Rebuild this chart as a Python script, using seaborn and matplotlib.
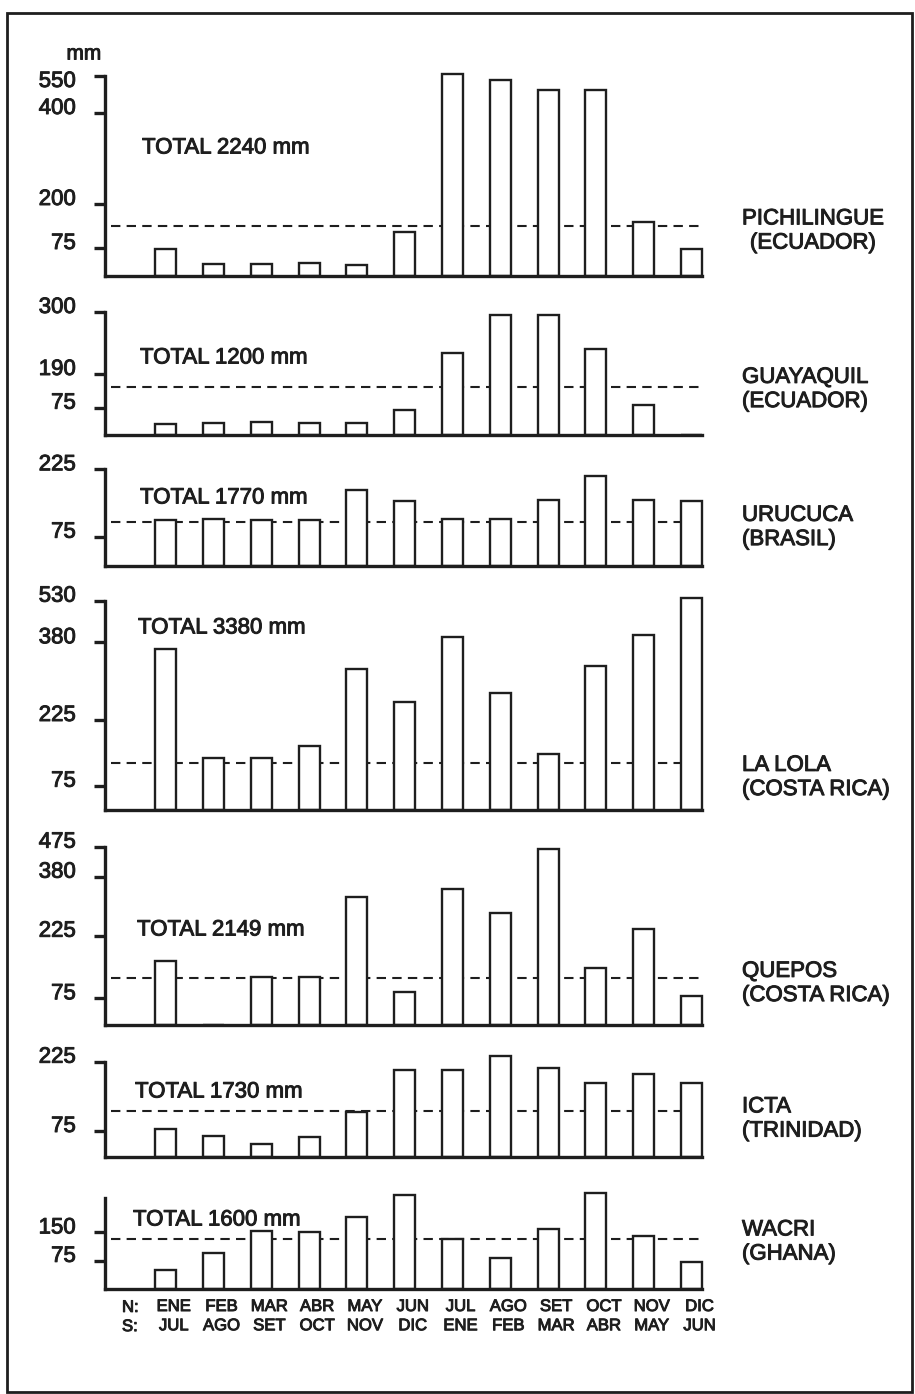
import numpy as np
import matplotlib
matplotlib.use("Agg")
import matplotlib.pyplot as plt
import matplotlib.transforms as mtransforms
import matplotlib.patheffects as pe
from matplotlib.patches import Rectangle
import seaborn as sns

sns.set_theme(style="white")
plt.rcParams['font.family'] = ['Liberation Sans', 'DejaVu Sans']

# ---------------- data ----------------
MONTHS_N = ["ENE", "FEB", "MAR", "ABR", "MAY", "JUN", "JUL", "AGO", "SET", "OCT", "NOV", "DIC"]
MONTHS_S = ["JUL", "AGO", "SET", "OCT", "NOV", "DIC", "ENE", "FEB", "MAR", "ABR", "MAY", "JUN"]

STATIONS = ["PICHILINGUE\n(ECUADOR)", "GUAYAQUIL\n(ECUADOR)", "URUCUCA\n(BRASIL)",
            "LA LOLA\n(COSTA RICA)", "QUEPOS\n(COSTA RICA)", "ICTA\n(TRINIDAD)", "WACRI\n(GHANA)"]
TOTALS = ["TOTAL 2240 mm", "TOTAL 1200 mm", "TOTAL 1770 mm", "TOTAL 3380 mm",
          "TOTAL 2149 mm", "TOTAL 1730 mm", "TOTAL 1600 mm"]

pichilingue = [72, 32, 32, 35, 30, 120, 560, 534, 493, 493, 149, 72]
guayaquil = [29, 32, 35, 32, 32, 69, 228, 295, 294, 234, 84, 0]
urucuca = [112, 114, 112, 112, 180, 155, 114, 114, 156, 210, 156, 155]
la_lola = [367, 139, 139, 166, 327, 260, 398, 278, 147, 333, 406, 539]
quepos = [164, 0, 125, 125, 327, 91, 347, 284, 467, 147, 242, 80]
icta = [79, 61, 37, 59, 117, 207, 207, 237, 211, 178, 198, 178]
wacri = [51, 95, 153, 150, 190, 250, 133, 82, 160, 255, 140, 71]
SERIES = [pichilingue, guayaquil, urucuca, la_lola, quepos, icta, wacri]

THRESHOLDS = [138, 147, 107, 126, 124, 118, 133]

YTICKS = [[75, 200, 400, 550], [75, 190, 300], [75, 225], [75, 225, 380, 530],
          [75, 225, 380, 475], [75, 225], [75, 150]]
YTOP = [550, 300, 225, 530, 475, 225, 240]

# ------------- scale / layout configuration -------------
# uneven (piecewise) vertical scales of the original, knots: value -> relative height
SCALE_VALS = [[0, 75, 200, 400, 550], [0, 75, 190, 300], [0, 75, 225], [0, 75, 225, 380, 530],
              [0, 75, 225, 380, 475], [0, 75, 225], [0, 75, 150]]
SCALE_HTS = [[0, 28, 72, 163, 200], [0, 27.3, 61, 123], [0, 29, 96.4], [0, 24.3, 90, 167.7, 209.3],
             [0, 26.7, 89.3, 148.3, 178.3], [0, 26.3, 95.6], [0, 28.3, 56.6]]

W, H = 915, 1394
BASE_PX = [276, 435, 565.7, 810, 1025, 1157.3, 1289.3]
TOP_PX = [76, 312, 469.3, 600.7, 846.7, 1061.7, 1198.3]
AX_LEFT, AX_RIGHT = 105, 702
TOTAL_POS = [(142, 148), (140, 358), (140, 498), (138, 628), (137, 930), (135, 1092), (133, 1220)]
STATION_POS = [(742, 231), (742, 389.5), (742, 527.5), (742, 777.5), (742, 983.5), (742, 1119), (742, 1242)]

INK = "#1e1e1e"
BOLDEN = [pe.withStroke(linewidth=0.7, foreground=INK)]


def piecewise(xs, ys):
    xs = np.asarray(xs, float)
    ys = np.asarray(ys, float)
    s_lo = (ys[1] - ys[0]) / (xs[1] - xs[0])
    s_hi = (ys[-1] - ys[-2]) / (xs[-1] - xs[-2])

    def f(v):
        v = np.asarray(v, float)
        out = np.interp(v, xs, ys)
        out = np.where(v > xs[-1], ys[-1] + (v - xs[-1]) * s_hi, out)
        out = np.where(v < xs[0], ys[0] + (v - xs[0]) * s_lo, out)
        return out
    return f


def fx(x):
    return x / W


def fy(y):
    return 1 - y / H


fig = plt.figure(figsize=(W / 100, H / 100), dpi=100)
fig.patch.set_facecolor("white")

up = mtransforms.ScaledTranslation(0, 0.07, fig.dpi_scale_trans)
down = mtransforms.ScaledTranslation(0, -0.03, fig.dpi_scale_trans)
right = mtransforms.ScaledTranslation(0.08, 0, fig.dpi_scale_trans)

for i, vals in enumerate(SERIES):
    ax = fig.add_axes([fx(AX_LEFT), fy(BASE_PX[i]), (AX_RIGHT - AX_LEFT) / W,
                       (BASE_PX[i] - TOP_PX[i]) / H])
    ax.set_facecolor("none")
    ax.axhline(THRESHOLDS[i], xmin=0.01, xmax=0.995, color=INK, lw=1.5,
               ls=(0, (4.5, 3.0)), zorder=0.5)
    sns.barplot(x=MONTHS_N, y=vals, ax=ax, color="white", saturation=1,
                edgecolor=INK, linewidth=1.7, width=0.44, zorder=1)
    for p in ax.patches:
        p.set_clip_on(False)
    fwd = piecewise(SCALE_VALS[i], SCALE_HTS[i])
    inv = piecewise(SCALE_HTS[i], SCALE_VALS[i])
    ax.set_yscale("function", functions=(fwd, inv))
    ax.set_ylim(0, YTOP[i])
    ax.set_xlim(-1.27, 11.22)
    ax.set_xlabel("")
    ax.set_ylabel("")
    for s in ["top", "right"]:
        ax.spines[s].set_visible(False)
    for s in ["left", "bottom"]:
        ax.spines[s].set_linewidth(2.4)
        ax.spines[s].set_color(INK)
        ax.spines[s].set_capstyle("projecting")
    ax.set_yticks(YTICKS[i], [str(t) for t in YTICKS[i]])
    ax.yaxis.set_minor_locator(matplotlib.ticker.NullLocator())
    ax.tick_params(axis="y", left=True, length=8, width=2.4, color=INK, pad=13,
                   labelsize=16, labelcolor=INK)
    labs = ax.get_yticklabels()
    for j, lab in enumerate(labs):
        shift = down if (i == 0 and j == len(labs) - 1) else up
        lab.set_transform(lab.get_transform() + shift)
        lab.set_path_effects(BOLDEN)
    if i == len(SERIES) - 1:
        ax.set_xticks(range(12), [f"{n}\n{s}" for n, s in zip(MONTHS_N, MONTHS_S)])
        ax.tick_params(axis="x", bottom=False, length=0, pad=7, labelsize=12,
                       labelcolor=INK)
        for lab in ax.get_xticklabels():
            lab.set_linespacing(1.35)
            lab.set_transform(lab.get_transform() + right)
            lab.set_path_effects(BOLDEN)
    else:
        ax.set_xticks([])

    tx, ty = TOTAL_POS[i]
    fig.text(fx(tx), fy(ty), TOTALS[i], ha="left", va="center", fontsize=16, color=INK,
             path_effects=BOLDEN)
    sx, sy = STATION_POS[i]
    fig.text(fx(sx), fy(sy), STATIONS[i], ha="left", va="center", fontsize=16,
             color=INK, linespacing=1.2, path_effects=BOLDEN,
             multialignment="center" if i == 0 else "left")

fig.text(fx(84), fy(54), "mm", ha="center", va="center", fontsize=15, color=INK,
         path_effects=BOLDEN)
fig.text(fx(122), fy(1317), "N:\nS:", ha="left", va="center", fontsize=12,
         color=INK, linespacing=1.35, path_effects=BOLDEN)

fig.add_artist(Rectangle((fx(7), fy(1392)), fx(912) - fx(7), fy(13) - fy(1392),
                         transform=fig.transFigure, fill=False, lw=2.0, ec=INK))

fig.savefig("out.png", dpi=100, facecolor="white")
